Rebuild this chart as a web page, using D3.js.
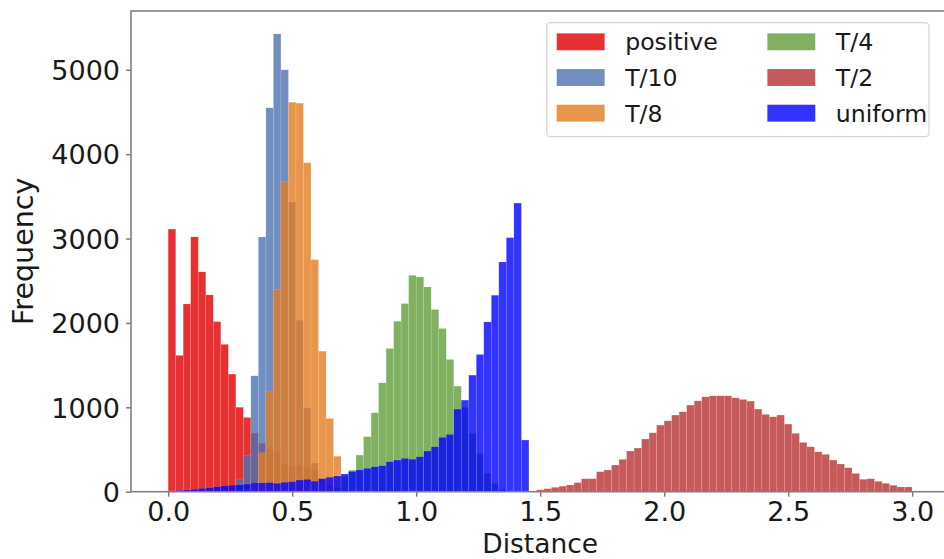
<!DOCTYPE html>
<html>
<head>
<meta charset="utf-8">
<script src="https://cdn.jsdelivr.net/npm/d3@7"></script>
<style>
  html, body { margin: 0; padding: 0; background: #fff; }
  svg { display: block; font-family: "DejaVu Sans", sans-serif; }
</style>
</head>
<body>
<svg id="chart" width="944" height="559"></svg>
<script>
// ---------------- data ----------------
const binWidth = 0.0303;           // common histogram bin width (Distance units)
const seriesNames = ["positive", "T/10", "T/8", "T/4", "T/2", "uniform"];
// first bin index of each series (bin i covers [i*binWidth, (i+1)*binWidth])
const firstBin = [0, 9, 10, 22, 48, 0];

const positiveCounts = [3112, 1615, 2225, 3020, 2605, 2332, 2015, 1746, 1393, 1001, 880, 695,
  575, 515, 480, 320, 305, 305, 290, 250, 150, 80, 30];
const t10Counts = [150, 430, 1373, 3018, 4549, 5425, 4999, 3432, 2032, 994, 340, 100, 30];
const t8Counts = [30, 100, 461, 1183, 2395, 3677, 4615, 4604, 3898, 2750, 1665, 868, 420, 60];
const t4Counts = [50, 180, 255, 434, 651, 935, 1290, 1697, 2020, 2229, 2564, 2544, 2426, 2158,
  1934, 1567, 1251, 1000, 690, 454, 217, 99, 30];
const t2Counts = [8, 22, 35, 52, 65, 79, 107, 154, 154, 237, 257, 316, 383, 482, 517, 624, 698,
  789, 840, 908, 947, 1026, 1077, 1124, 1136, 1136, 1136, 1112, 1093, 1073, 979, 916, 888, 908,
  801, 691, 584, 533, 473, 442, 375, 328, 284, 217, 147, 154, 123, 99, 76, 56, 56];
const uniformCounts = [8, 15, 22, 30, 40, 48, 60, 70, 78, 82, 90, 107, 105, 108, 100, 112, 120,
  138, 147, 125, 155, 172, 186, 210, 240, 258, 277, 296, 308, 355, 375, 395, 385, 414, 482, 533,
  644, 679, 979, 1085, 1381, 1626, 2012, 2328, 2722, 3010, 3420, 612];

const seriesCounts = [positiveCounts, t10Counts, t8Counts, t4Counts, t2Counts, uniformCounts];
const seriesColors = ["rgb(228,26,28)", "rgb(76,114,176)", "rgb(228,124,33)",
  "rgb(96,158,56)", "rgb(192,72,72)", "rgb(0,0,255)"];
const seriesAlpha = [0.9, 0.8, 0.8, 0.8, 0.9, 0.8];

const xTicks = [0, 0.5, 1.0, 1.5, 2.0, 2.5, 3.0];
const yTicks = [0, 1000, 2000, 3000, 4000, 5000];
const xLabel = "Distance";
const yLabel = "Frequency";

// ---------------- layout ----------------
const svg = d3.select("#chart");
const plotLeft = 131, plotTop = 11, plotBottom = 491.7;
const xMin = -0.15, xMax = 3.15;
const pxPerUnit = 248;
const plotRight = plotLeft + (xMax - xMin) * pxPerUnit;   // extends past the window, as in the reference

const yMax = d3.max(seriesCounts.flat()) * 1.05;
const x = d3.scaleLinear().domain([xMin, xMax]).range([plotLeft, plotRight]);
const y = d3.scaleLinear().domain([0, yMax]).range([plotBottom, plotTop]);

const defs = svg.append("defs");
defs.append("clipPath").attr("id", "plotclip").append("rect")
  .attr("x", plotLeft).attr("y", plotTop)
  .attr("width", plotRight - plotLeft).attr("height", plotBottom - plotTop);

// ---------------- bars ----------------
const barsG = svg.append("g").attr("clip-path", "url(#plotclip)");
seriesCounts.forEach((counts, s) => {
  const bins = counts.map((c, i) => ({ x0: (firstBin[s] + i) * binWidth, x1: (firstBin[s] + i + 1) * binWidth, c }));
  barsG.append("g").selectAll("rect").data(bins).join("rect")
    .attr("x", d => x(d.x0))
    .attr("width", d => x(d.x1) - x(d.x0))
    .attr("y", d => y(d.c))
    .attr("height", d => y(0) - y(d.c))
    .attr("fill", seriesColors[s])
    .attr("fill-opacity", seriesAlpha[s])
    .attr("stroke", "#ffffff")
    .attr("stroke-opacity", 0.2)
    .attr("stroke-width", 0.6);
});

// ---------------- axes ----------------
const axisColor = "#808080";
const xAxis = d3.axisBottom(x).tickValues(xTicks).tickFormat(d3.format(".1f")).tickSize(5).tickPadding(6);
const yAxis = d3.axisLeft(y).tickValues(yTicks).tickFormat(d3.format("d")).tickSize(5).tickPadding(6);

const gx = svg.append("g").attr("transform", `translate(0,${plotBottom})`).call(xAxis);
const gy = svg.append("g").attr("transform", `translate(${plotLeft},0)`).call(yAxis);
[gx, gy].forEach(g => {
  g.select(".domain").remove();
  g.selectAll(".tick line").attr("stroke", axisColor).attr("stroke-width", 1.5);
  g.selectAll(".tick text").attr("fill", "#1a1a1a")
    .style("font-family", "'DejaVu Sans', sans-serif").style("font-size", "27px");
});
gx.selectAll(".tick text").attr("dy", null).attr("y", 29.5);
gy.selectAll(".tick text").attr("dy", "0.36em");

// spines
svg.append("rect")
  .attr("x", plotLeft).attr("y", plotTop)
  .attr("width", plotRight - plotLeft).attr("height", plotBottom - plotTop)
  .attr("fill", "none").attr("stroke", axisColor).attr("stroke-width", 1.6);

// axis labels
svg.append("text")
  .attr("x", (plotLeft + plotRight) / 2).attr("y", 552.5)
  .attr("text-anchor", "middle").attr("fill", "#1a1a1a")
  .style("font-size", "26.5px").text(xLabel);
svg.append("text")
  .attr("transform", `translate(33,${(plotTop + plotBottom) / 2}) rotate(-90)`)
  .attr("text-anchor", "middle").attr("fill", "#1a1a1a")
  .style("font-size", "28.5px").text(yLabel);

// ---------------- legend ----------------
const lg = svg.append("g");
lg.append("rect")
  .attr("x", 546.7).attr("y", 22.7).attr("width", 382.3).attr("height", 114)
  .attr("rx", 4).attr("fill", "#fff").attr("fill-opacity", 0.8)
  .attr("stroke", "#d6d6d6").attr("stroke-width", 1.2);
seriesNames.forEach((name, i) => {
  const col = Math.floor(i / 3), row = i % 3;
  const px = 556.7 + col * 210.6;
  const py = 33.3 + row * 35.7;
  lg.append("rect").attr("x", px).attr("y", py).attr("width", 48).attr("height", 17)
    .attr("fill", seriesColors[i]).attr("fill-opacity", seriesAlpha[i])
    .attr("stroke", "#fff").attr("stroke-opacity", 0.2).attr("stroke-width", 0.6);
  lg.append("text").attr("x", px + 68.5).attr("y", py + 8.5).attr("dy", "0.36em")
    .attr("fill", "#1a1a1a").style("font-size", "23.6px").text(name);
});
</script>
</body>
</html>
